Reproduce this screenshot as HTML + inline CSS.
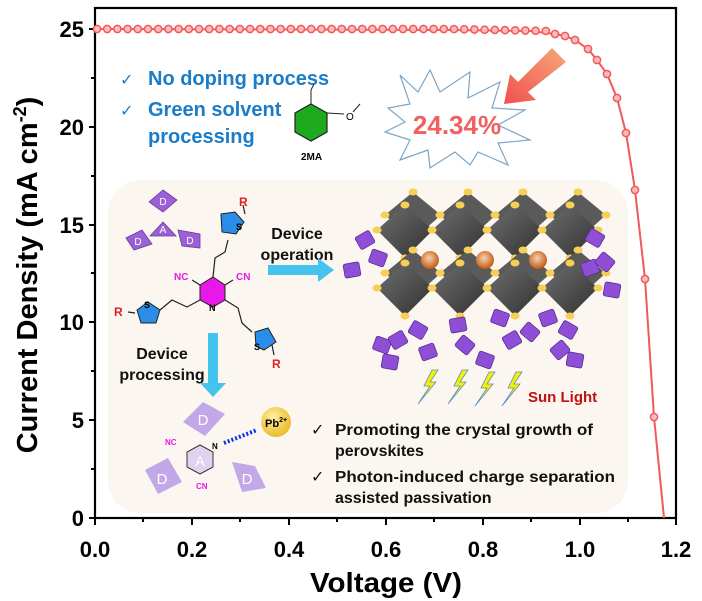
<!DOCTYPE html>
<html><head><meta charset="utf-8"><style>
html,body{margin:0;padding:0;background:#fff;}
svg{display:block;font-family:"Liberation Sans",Arial,sans-serif;}
</style></head><body>
<svg width="702" height="601" viewBox="0 0 702 601" xmlns="http://www.w3.org/2000/svg">
<defs>
<linearGradient id="arr" x1="1" y1="0" x2="0" y2="1"><stop offset="0" stop-color="#f5a878"/><stop offset="1" stop-color="#f05050"/></linearGradient>
<radialGradient id="pb" cx="0.4" cy="0.35" r="0.7"><stop offset="0" stop-color="#fff0a0"/><stop offset="1" stop-color="#e8b820"/></radialGradient>
<radialGradient id="cs" cx="0.45" cy="0.4" r="0.6"><stop offset="0" stop-color="#f8d0b0"/><stop offset="1" stop-color="#c05a10"/></radialGradient>
<linearGradient id="oct" x1="0" y1="0" x2="1" y2="1"><stop offset="0" stop-color="#707070"/><stop offset="1" stop-color="#303030"/></linearGradient>
</defs>

<rect x="108" y="180" width="520" height="333" rx="32" fill="#fbf6f0"/>

<rect x="95" y="8" width="581" height="510" fill="none" stroke="#000" stroke-width="2.2"/>
<g stroke="#000" stroke-width="2">
<line x1="89" y1="29" x2="95" y2="29"/><line x1="89" y1="127" x2="95" y2="127"/><line x1="89" y1="225" x2="95" y2="225"/><line x1="89" y1="322" x2="95" y2="322"/><line x1="89" y1="420" x2="95" y2="420"/><line x1="89" y1="518" x2="95" y2="518"/>
<line x1="91" y1="78" x2="95" y2="78"/><line x1="91" y1="176" x2="95" y2="176"/><line x1="91" y1="273" x2="95" y2="273"/><line x1="91" y1="371" x2="95" y2="371"/><line x1="91" y1="469" x2="95" y2="469"/>
<line x1="95" y1="518" x2="95" y2="525"/><line x1="192" y1="518" x2="192" y2="525"/><line x1="289" y1="518" x2="289" y2="525"/><line x1="386" y1="518" x2="386" y2="525"/><line x1="483" y1="518" x2="483" y2="525"/><line x1="580" y1="518" x2="580" y2="525"/><line x1="676" y1="518" x2="676" y2="525"/>
<line x1="143" y1="518" x2="143" y2="522"/><line x1="240" y1="518" x2="240" y2="522"/><line x1="337" y1="518" x2="337" y2="522"/><line x1="434" y1="518" x2="434" y2="522"/><line x1="531" y1="518" x2="531" y2="522"/><line x1="628" y1="518" x2="628" y2="522"/>
</g>
<g font-weight="bold" font-size="22" fill="#000" text-anchor="end">
<text x="84" y="37">25</text><text x="84" y="135">20</text><text x="84" y="233">15</text><text x="84" y="330">10</text><text x="84" y="428">5</text><text x="84" y="526">0</text>
</g>
<g font-weight="bold" font-size="22" fill="#000" text-anchor="middle">
<text x="95" y="557">0.0</text><text x="192" y="557">0.2</text><text x="289" y="557">0.4</text><text x="386" y="557">0.6</text><text x="483" y="557">0.8</text><text x="580" y="557">1.0</text><text x="676" y="557">1.2</text>
<text x="386" y="592" font-size="28" textLength="152" lengthAdjust="spacingAndGlyphs">Voltage (V)</text>
<text transform="translate(37,275) rotate(-90)" font-size="29">Current Density (mA cm<tspan font-size="18" dy="-11">-2</tspan><tspan dy="11">)</tspan></text>
</g>

<polyline fill="none" stroke="#f05a5a" stroke-width="2" points="95,29 300,29.5 450,30 530,31 555,34 565,36 575,40 588,49 597,60 607,74 617,98 626,133 635,190 645,279 654,417 664,518"/>
<g fill="#fbb" stroke="#f05a5a" stroke-width="1.5" id="pts"></g>

<g font-weight="bold" font-size="20" fill="#1b7cc8">
<text x="120" y="85" font-size="16" font-weight="normal">✓</text><text x="148" y="85">No doping process</text>
<text x="120" y="116" font-size="16" font-weight="normal">✓</text><text x="148" y="116">Green solvent</text>
<text x="148" y="143">processing</text>
</g>
<polygon points="311,104 327,113 327,132 311,141 295,132 295,113" fill="#1eaa1e" stroke="#222" stroke-width="1.2"/>
<polyline points="311,104 311,90 314,84" fill="none" stroke="#222" stroke-width="1"/>
<line x1="327" y1="113" x2="344" y2="114" stroke="#222"/>
<text x="346" y="120" font-size="10">O</text><line x1="353" y1="112" x2="360" y2="104" stroke="#222"/>
<text x="301" y="160" font-size="10" font-weight="bold">2MA</text>

<polygon points="400,75 418,92 430,70 440,92 470,72 468,98 500,82 492,108 525,110 498,125 530,140 498,143 508,165 478,152 470,165 455,152 430,168 428,150 400,160 410,140 385,132 405,122 388,108 410,104" fill="#fff" stroke="#7aa6c8" stroke-width="1.2"/>
<text x="457" y="134" text-anchor="middle" font-size="26" font-weight="bold" fill="#f06060">24.34%</text>
<polygon points="552,48 566,62 528,92 536,100 504,104 510,74 518,82" fill="url(#arr)"/>

<g fill="#9b5fd6" stroke="#6a3aa0" stroke-width="0.8">
<polygon points="163,222 150,236 176,236"/>
<polygon points="163,190 177,200 163,212 149,202"/>
<polygon points="126,238 142,230 152,244 134,250"/>
<polygon points="178,230 200,234 200,248 182,246"/>
</g>
<g font-size="10" fill="#fff" text-anchor="middle"><text x="163" y="205">D</text><text x="138" y="245">D</text><text x="190" y="244">D</text><text x="163" y="233">A</text></g>

<g stroke="#222" stroke-width="1.2" fill="none">
<polyline points="213,277 215,258 225,252 228,240"/>
<polyline points="200,300 187,307 172,300 160,310"/>
<polyline points="225,300 238,308 242,323 252,332"/>
<line x1="200" y1="285" x2="192" y2="280"/><line x1="225" y1="285" x2="233" y2="280"/>
<line x1="245" y1="214" x2="243" y2="205"/><line x1="135" y1="313" x2="128" y2="312"/><line x1="272" y1="345" x2="274" y2="355"/>
</g>
<polygon points="213,277 225,285 225,300 213,307 200,300 200,285" fill="#e818e8" stroke="#222" stroke-width="1"/>
<g fill="#2a8ee8" stroke="#222" stroke-width="1">
<polygon points="221,214 235,212 244,222 236,234 222,232"/>
<polygon points="137,310 148,302 160,310 156,323 141,323"/>
<polygon points="255,332 268,328 276,342 264,350 256,346"/>
</g>
<g font-size="9" font-weight="bold">
<text x="236" y="230">S</text><text x="144" y="308">S</text><text x="254" y="350">S</text>
<text x="209" y="311">N</text>
</g>
<g font-size="10" font-weight="bold" fill="#e818e8"><text x="174" y="280">NC</text><text x="236" y="280">CN</text></g>
<g font-size="12" font-weight="bold" fill="#e02020"><text x="239" y="206">R</text><text x="114" y="316">R</text><text x="272" y="368">R</text></g>

<g font-size="16" font-weight="bold" fill="#111" text-anchor="middle">
<text x="297" y="239">Device</text><text x="297" y="260">operation</text>
<text x="162" y="359">Device</text><text x="162" y="380">processing</text>
</g>
<polygon points="268,265 318,265 318,258 334,270 318,282 318,275 268,275" fill="#44c4ec"/>
<polygon points="208,333 218,333 218,383 226,383 213,397 200,383 208,383" fill="#44c4ec"/>

<g id="pv"></g>

<g fill="#f6f000" stroke="#5a8ec0" stroke-width="0.8">
<polygon points="432,370 424,386 430,386 418,404 436,382 430,382 438,370"/>
<polygon points="462,370 454,386 460,386 448,404 466,382 460,382 468,370"/>
<polygon points="489,372 481,388 487,388 475,406 493,384 487,384 495,372"/>
<polygon points="516,372 508,388 514,388 502,406 520,384 514,384 522,372"/>
</g>
<text x="528" y="402" font-size="15" font-weight="bold" fill="#c01010">Sun Light</text>

<g fill="#b99be6" opacity="0.85">
<polygon points="203,402 225,414 205,436 183,422"/>
<polygon points="145,470 168,458 182,482 158,494"/>
<polygon points="232,462 255,466 266,488 242,492"/>
</g>
<g font-size="15" fill="#fff" text-anchor="middle"><text x="203" y="425">D</text><text x="162" y="484">D</text><text x="247" y="484">D</text></g>
<polygon points="200,445 213,452 213,467 200,474 187,467 187,452" fill="#c8b0f0" fill-opacity="0.5" stroke="#333" stroke-width="1"/>
<text x="200" y="466" text-anchor="middle" font-size="14" fill="#fff">A</text>
<text x="165" y="445" font-size="8" font-weight="bold" fill="#e818e8">NC</text>
<text x="196" y="489" font-size="8" font-weight="bold" fill="#e818e8">CN</text>
<text x="212" y="449" font-size="8" font-weight="bold">N</text>
<line x1="224" y1="443" x2="257" y2="430" stroke="#1030e0" stroke-width="4" stroke-dasharray="2,2"/>
<circle cx="276" cy="422" r="15" fill="url(#pb)"/>
<text x="265" y="427" font-size="11" font-weight="bold">Pb<tspan font-size="7" dy="-5">2+</tspan></text>

<g font-size="16" font-weight="bold" fill="#111">
<text x="311" y="435" font-weight="normal">✓</text><text x="335" y="435" textLength="258" lengthAdjust="spacingAndGlyphs">Promoting the crystal growth of</text>
<text x="335" y="456">perovskites</text>
<text x="311" y="482" font-weight="normal">✓</text><text x="335" y="482" textLength="280" lengthAdjust="spacingAndGlyphs">Photon-induced charge separation</text>
<text x="335" y="503">assisted passivation</text>
</g>
</svg>
<script>
var ns="http://www.w3.org/2000/svg";
var pts=document.getElementById('pts');
function c(x,y){var e=document.createElementNS(ns,'circle');e.setAttribute('cx',x);e.setAttribute('cy',y);e.setAttribute('r',3.6);pts.appendChild(e);}
for(var x=97;x<550;x+=10.2){c(x,29+Math.max(0,(x-450)/100*2));}
[[555,34],[565,36],[575,40],[588,49],[597,60],[607,74],[617,98],[626,133],[635,190],[645,279],[654,417]].forEach(function(p){c(p[0],p[1]);});
var pv=document.getElementById('pv');
function el(t,a){var e=document.createElementNS(ns,t);for(var k in a)e.setAttribute(k,a[k]);pv.appendChild(e);return e;}
var xs=[405,460,515,570],ys=[225,283];
ys.forEach(function(cy){xs.forEach(function(cx){
 el('polygon',{points:(cx+8)+','+(cy-33)+' '+(cx+36)+','+(cy-10)+' '+(cx+8)+','+(cy+15)+' '+(cx-20)+','+(cy-10),fill:'#5a5a5a'});
 el('polygon',{points:cx+','+(cy-20)+' '+(cx+28)+','+(cy+5)+' '+cx+','+(cy+33)+' '+(cx-28)+','+(cy+5),fill:'url(#oct)'});
 [[cx+8,cy-33],[cx+36,cy-10],[cx-20,cy-10],[cx,cy-20],[cx+28,cy+5],[cx-28,cy+5],[cx,cy+33]].forEach(function(p){el('ellipse',{cx:p[0],cy:p[1],rx:4.5,ry:3.5,fill:'#f7cf55'});});
});});
[430,485,538].forEach(function(x){el('circle',{cx:x,cy:260,r:9,fill:'url(#cs)'});});
var frags=[[365,240,-30],[378,258,20],[352,270,-10],[595,238,30],[590,268,-20],[605,262,40],[612,290,10],[382,345,20],[398,340,-30],[390,362,10],[418,330,30],[428,352,-20],[458,325,-10],[465,345,40],[485,360,20],[500,318,20],[512,340,-30],[530,332,40],[548,318,-20],[568,330,30],[560,350,-40],[575,360,10]];
frags.forEach(function(f){el('rect',{x:f[0]-8,y:f[1]-7,width:16,height:14,rx:2,fill:'#8e4fd6',stroke:'#5a2a9a','stroke-width':0.8,transform:'rotate('+f[2]+' '+f[0]+' '+f[1]+')'});});
</script>
</body></html>
